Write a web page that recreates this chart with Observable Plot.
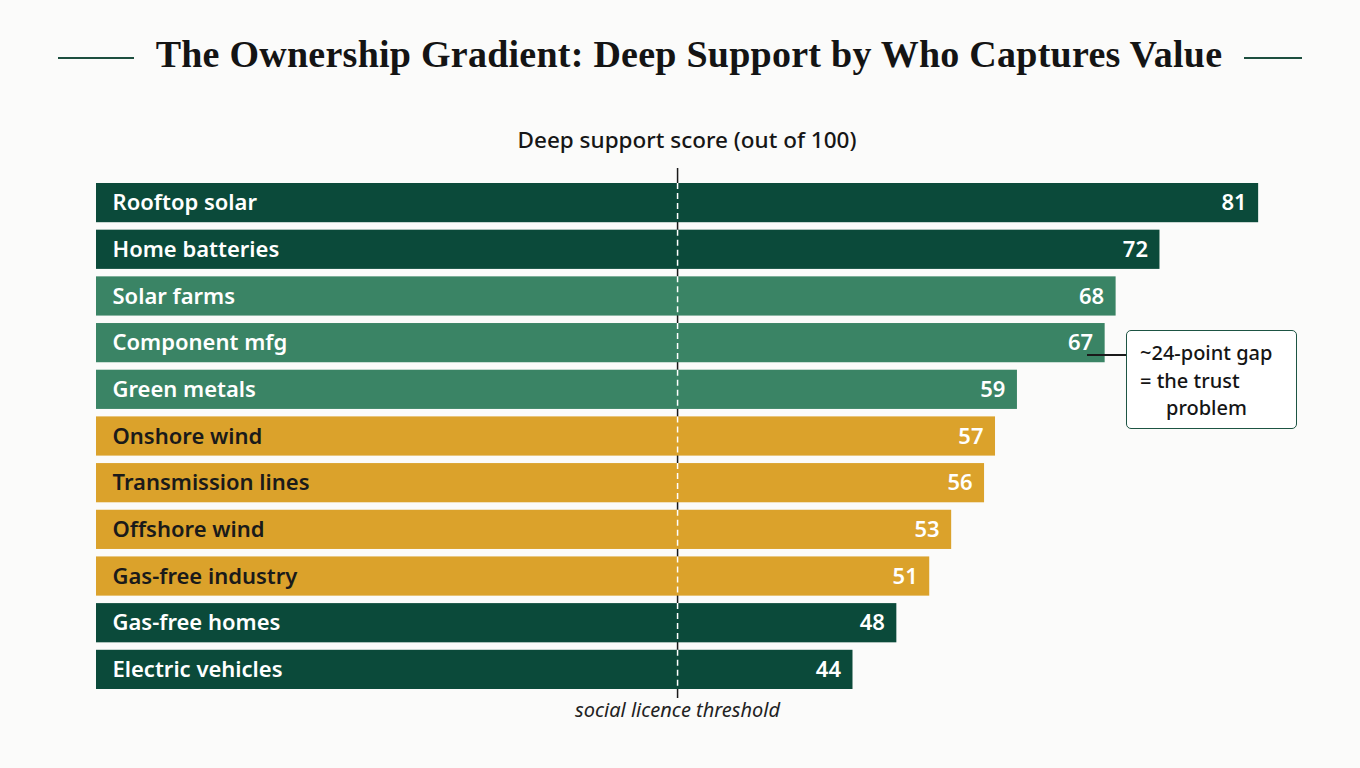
<!DOCTYPE html>
<html>
<head>
<meta charset="utf-8">
<script src="https://cdn.jsdelivr.net/npm/d3@7"></script>
<script src="https://cdn.jsdelivr.net/npm/@observablehq/plot@0.6"></script>
<style>
  body { margin:0; background:#fbfbfa; width:1360px; height:768px; position:relative; overflow:hidden; font-family:"Noto Sans", sans-serif; }
  #title { position:absolute; top:30px; left:0; width:1360px; display:flex; justify-content:center; align-items:center; gap:22px; }
  #title .rule { height:2px; background:#1d4f3f; position:relative; top:4px; }
  #title .rule.left { width:76px; }
  #title .rule.right { width:58px; }
  #title h1 { margin:0; font-family:"Liberation Serif", serif; font-weight:700; font-size:38px; line-height:48px; letter-spacing:0.25px; color:#141414; white-space:nowrap; }
  #subtitle { position:absolute; top:127px; left:0; width:1374px; text-align:center; font-size:22.5px; line-height:26px; font-weight:500; color:#161616; }
  #chart { position:absolute; top:160px; left:0; }
  #note { position:absolute; left:1126px; top:330px; width:171px; height:99px; box-sizing:border-box; border:1.5px solid #1d5443; border-radius:5px; background:#fff; font-size:20px; font-weight:500; color:#151515; padding:8px 0 0 13px; line-height:27.5px; }
  #note .indent { padding-left:26px; }
  #connector { position:absolute; left:1087px; top:354px; width:39px; height:1.5px; background:#1a1a1a; }
</style>
</head>
<body>
<div id="title"><div class="rule left"></div><h1>The Ownership Gradient: Deep Support by Who Captures Value</h1><div class="rule right"></div></div>
<div id="subtitle">Deep support score (out of 100)</div>
<div id="chart"></div>
<div id="connector"></div>
<div id="note">~24-point gap<br>= the trust<br><span class="indent">problem</span></div>
<script>
const names = ["Rooftop solar","Home batteries","Solar farms","Component mfg","Green metals","Onshore wind","Transmission lines","Offshore wind","Gas-free industry","Gas-free homes","Electric vehicles"];
const scores = [81,72,68,67,59,57,56,53,51,48,44];
const tiers = ["household","household","local","local","local","utility","utility","utility","utility","household","household"];
const tierOrder = ["household","local","utility"];
const threshold = 28;
const thresholdLabel = "social licence threshold";
const axisStart = -25;
const axisEnd = 85;

const rows = names.map((n, i) => ({name: n, score: scores[i], tier: tiers[i]}));

const chart = Plot.plot({
  width: 1360,
  height: 575,
  marginTop: 23,
  marginBottom: 46,
  marginLeft: 96,
  marginRight: 58,
  style: {background: "transparent", fontFamily: "'Noto Sans', sans-serif"},
  x: {domain: [axisStart, axisEnd], axis: null},
  y: {domain: names, axis: null, paddingInner: 0.16, paddingOuter: 0, round: false},
  color: {domain: tierOrder, range: ["#0b4a3a", "#3a8465", "#dba22b"]},
  marks: [
    Plot.ruleX([threshold], {x: d => d, stroke: "#1a1a1a", strokeWidth: 1.5, insetTop: -15, insetBottom: -9}),
    Plot.barX(rows, {x1: () => axisStart, x2: "score", y: "name", fill: "tier"}),
    Plot.tickX(rows, {x: () => threshold, y: "name", stroke: "#ffffff", strokeWidth: 1.5, strokeDasharray: "6,4"}),
    Plot.text(rows, {filter: d => d.tier !== "utility", x: () => axisStart, y: "name", text: "name", textAnchor: "start", dx: 16, fill: "#ffffff", fontSize: 22, fontWeight: 600}),
    Plot.text(rows, {filter: d => d.tier === "utility", x: () => axisStart, y: "name", text: "name", textAnchor: "start", dx: 16, fill: "#1a1a1a", fontSize: 22, fontWeight: 600}),
    Plot.text(rows, {x: "score", y: "name", text: d => String(d.score), textAnchor: "end", dx: -12, fill: "#ffffff", fontSize: 22, fontWeight: 600}),
    Plot.text([threshold], {x: d => d, frameAnchor: "bottom", dy: 27, text: () => thresholdLabel, fontStyle: "italic", fontSize: 20, fill: "#222222"})
  ]
});
document.getElementById("chart").appendChild(chart);
</script>
</body>
</html>
